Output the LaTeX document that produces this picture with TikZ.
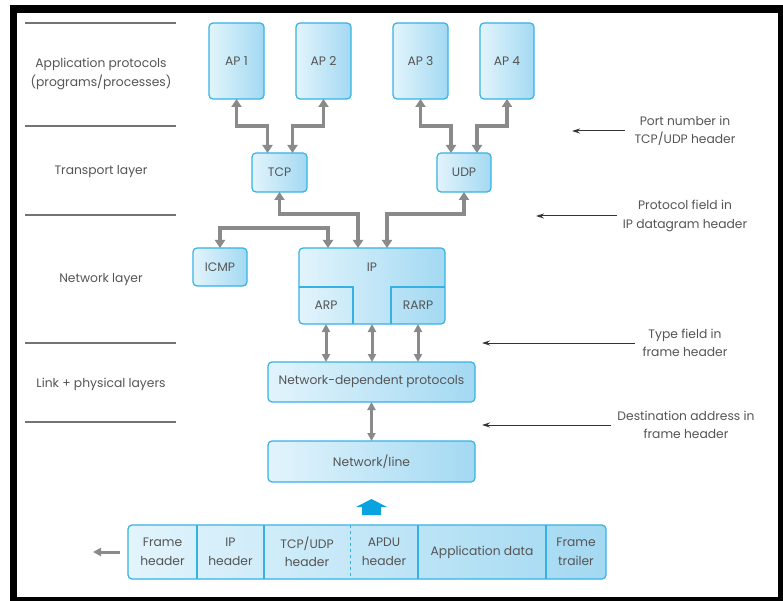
\documentclass[tikz,border=0pt]{standalone}
\usepackage{fontspec}
\setmainfont{Poppins}
\usetikzlibrary{arrows.meta,positioning,backgrounds}
\definecolor{cajaborde}{HTML}{35B2E4}
\definecolor{cajaclaro}{HTML}{E2F4FC}
\definecolor{cajaoscuro}{HTML}{A3D9F2}
\definecolor{flecha}{HTML}{8A8A8A}
\definecolor{texto}{HTML}{555555}
\definecolor{azul}{HTML}{0AA3E0}

\begin{document}
\begin{tikzpicture}[x=1pt,y=-1pt,line width=1pt,
  font=\fontsize{12.3}{18.5}\selectfont,text=texto,
  caja/.style={draw=cajaborde,line width=1.2pt,rounded corners=4pt,left color=cajaclaro,right color=cajaoscuro,inner sep=0pt,outer sep=0pt,align=center},
  celda/.style={inner sep=0pt,outer sep=0pt,minimum height=54pt,align=center},
  doble/.style={draw=flecha,line width=3.6pt,{Triangle[width=10pt,length=8pt]}-{Triangle[width=10pt,length=8pt]}},
  doblechica/.style={draw=flecha,line width=3pt,{Triangle[width=8pt,length=8pt]}-{Triangle[width=8pt,length=8pt]}},
  apunta/.style={draw=black!80,line width=1pt,-{Stealth[length=8pt,width=5pt]}}]
  \useasboundingbox (0,0) rectangle (783,601);
  % marco
  \begin{scope}[on background layer]
    \fill[black] (10,5) rectangle (783,601);
    \fill[white] (17,13) rectangle (778,597);
  \end{scope}
  % capas (izquierda)
  \foreach \y in {23,126,215,343,422} \draw[black!55,line width=1.2pt] (25,\y)--(176,\y);
  \node[align=center] (capaap) at (101,74) {Application protocols\\(programs/processes)};
  \node (capatr) at (101,172) {Transport layer};
  \node (capared) at (101,280) {Network layer};
  \node (capaenl) at (101,384) {Link + physical layers};
  % procesos de aplicacion
  \node[caja,minimum width=55pt,minimum height=76pt] (ap1) at (236.5,61) {AP 1};
  \node[caja,minimum width=55pt,minimum height=76pt] (ap2) at (323.5,61) {AP 2};
  \node[caja,minimum width=55pt,minimum height=76pt] (ap3) at (420.5,61) {AP 3};
  \node[caja,minimum width=54pt,minimum height=76pt] (ap4) at (507,61) {AP 4};
  % transporte
  \node[caja,minimum width=55pt,minimum height=39pt] (tcp) at (279.5,172.5) {TCP};
  \node[caja,minimum width=54pt,minimum height=39pt] (udp) at (464,172.5) {UDP};
  % red
  \node[caja,minimum width=54pt,minimum height=38pt] (icmp) at (220,267) {ICMP};
  \node[caja,minimum width=146pt,minimum height=76pt] (ip) at (372,286) {};
  \node (iptxt) at (372,267) {IP};
  \node[celda,minimum width=54pt,minimum height=37pt] (arp) at (326,305.5) {ARP};
  \node[celda,minimum width=54pt,minimum height=37pt] (rarp) at (418,305.5) {RARP};
  \draw[cajaborde,line width=1.2pt] (arp.north west)--(arp.north east)--(arp.south east);
  \draw[cajaborde,line width=1.2pt] (rarp.south west)--(rarp.north west)--(rarp.north east);
  % enlace
  \node[caja,minimum width=207pt,minimum height=40pt] (ndp) at (371.5,382) {Network-dependent protocols};
  \node[caja,minimum width=207pt,minimum height=41pt] (net) at (371.5,461.5) {Network/line};
  % flechas grises
  \draw[doble] (ap1.south)--++(0,27)-|([xshift=-12pt]tcp.north);
  \draw[doble] (ap2.south)--++(0,27)-|([xshift=13pt]tcp.north);
  \draw[doble] (ap3.south)--++(0,27)-|([xshift=-13pt]udp.north);
  \draw[doble] (ap4.south)--++(0,27)-|([xshift=13pt]udp.north);
  \draw[doble] (tcp.south)--++(0,22)-|([xshift=-14pt]ip.north);
  \draw[doble] (udp.south)--++(0,22)-|([xshift=15pt]ip.north);
  \draw[doble] (icmp.north)--++(0,-20)-|([xshift=-44pt]ip.north);
  \foreach \c in {arp,ip,rarp} \draw[doblechica] (ip.south -| \c)--(ndp.north -| \c);
  \draw[doblechica] (ndp.south)--(net.north);
  % trama
  \node[celda,minimum width=69pt] (fh) at (162.5,552) {Frame\\header};
  \node[celda,minimum width=67pt,right=0pt of fh] (iph) {IP\\header};
  \node[celda,minimum width=86pt,right=0pt of iph] (tuh) {TCP/UDP\\header};
  \node[celda,minimum width=68pt,right=0pt of tuh] (apdu) {APDU\\header};
  \node[celda,minimum width=128pt,right=0pt of apdu] (datos) {Application data};
  \node[celda,minimum width=60pt,right=0pt of datos] (ft) {Frame\\trailer};
  \begin{scope}[on background layer]
    \draw[caja] (fh.north west) rectangle (ft.south east);
  \end{scope}
  \foreach \c in {fh,iph,apdu,datos} \draw[cajaborde,line width=1.2pt] (\c.north east)--(\c.south east);
  \draw[cajaborde,line width=1pt,dashed] (tuh.north east)--(tuh.south east);
  \fill[azul] (362,515)--(362,507)--(356,507)--(371.5,499)--(387,507)--(381,507)--(381,515)--cycle;
  \coordinate (salida) at (93,552);
  \draw[draw=flecha,line width=3pt,-{Triangle[width=8pt,length=8pt]}] ([xshift=-8pt]fh.west)--(salida);
  % notas (derecha)
  \node[align=center] (pn) at (685,131) {Port number in\\TCP/UDP header};
  \node[align=center] (pf) at (685,216) {Protocol field in\\IP datagram header};
  \node[align=center] (tf) at (685,343) {Type field in\\frame header};
  \node[align=center] (da) at (686,425) {Destination address in\\frame header};
  \coordinate (pnfin) at (572,131);
  \coordinate (pffin) at (536,216);
  \coordinate (tffin) at (482,343);
  \coordinate (dafin) at (482,425);
  \draw[apunta] ([xshift=-6pt]pn.west)--(pnfin);
  \draw[apunta] ([xshift=-2pt]pf.west)--(pffin);
  \draw[apunta] ([xshift=-4pt]tf.west)--(tffin);
  \draw[apunta] ([xshift=-3pt]da.west)--(dafin);
\end{tikzpicture}
\end{document}
